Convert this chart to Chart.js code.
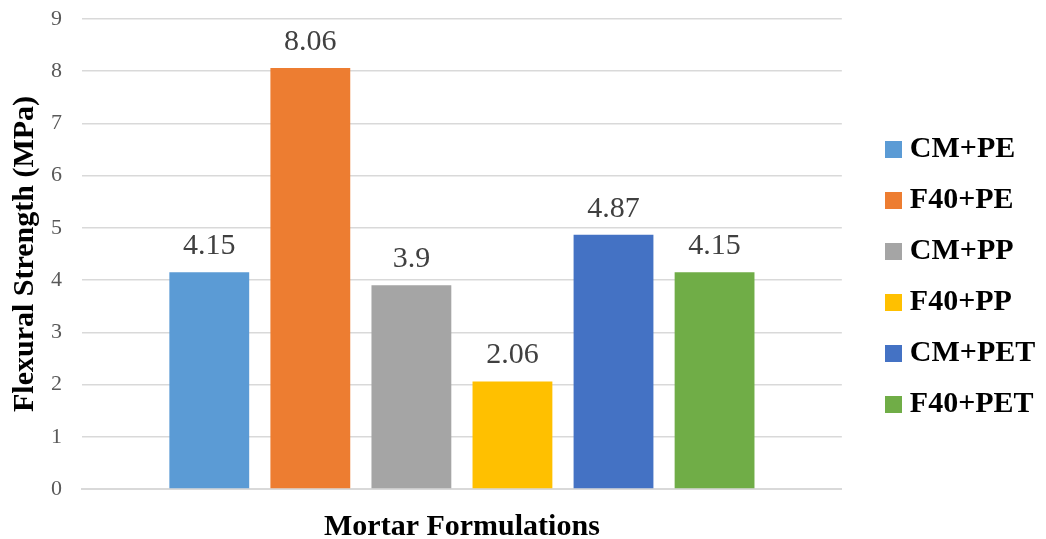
<!DOCTYPE html>
<html>
<head>
<meta charset="utf-8">
<script src="https://cdn.jsdelivr.net/npm/chart.js@4/dist/chart.umd.min.js"></script>
<style>
  html, body { margin: 0; padding: 0; background: #fff; }
  #wrap { width: 1046px; height: 539px; position: relative; }
</style>
</head>
<body>
<div id="wrap"><canvas id="strengthChart"></canvas></div>
<script>
const categories = [""];
const mixNames = ["CM+PE", "F40+PE", "CM+PP", "F40+PP", "CM+PET", "F40+PET"];
const strengthValues = [4.15, 8.06, 3.9, 2.06, 4.87, 4.15];
const barColors = ["#5B9BD5", "#ED7D31", "#A5A5A5", "#FFC000", "#4472C4", "#70AD47"];
const yTicks = [0, 1, 2, 3, 4, 5, 6, 7, 8, 9];

const serif = "'Liberation Serif', 'Times New Roman', serif";

// small square swatch used as the legend marker
function swatch(color) {
  const c = document.createElement("canvas");
  c.width = 17;
  c.height = 17;
  const g = c.getContext("2d");
  g.fillStyle = color;
  g.fillRect(0, 0, 17, 17);
  return c;
}

// prints each bar's value just above it
const valueLabels = {
  id: "valueLabels",
  afterDatasetsDraw(chart) {
    const ctx = chart.ctx;
    ctx.save();
    ctx.font = "30px " + serif;
    ctx.fillStyle = "#404040";
    ctx.textAlign = "center";
    ctx.textBaseline = "alphabetic";
    chart.data.datasets.forEach(function (ds, i) {
      const meta = chart.getDatasetMeta(i);
      meta.data.forEach(function (bar, j) {
        ctx.fillText(String(ds.data[j]), bar.x, bar.y - 18);
      });
    });
    ctx.restore();
  },
};

document.addEventListener("DOMContentLoaded", function () {
  const datasets = mixNames.map(function (name, i) {
    return {
      label: name,
      data: [strengthValues[i]],
      backgroundColor: barColors[i],
      pointStyle: swatch(barColors[i]),
      borderWidth: 0,
      categoryPercentage: 0.798,
      barPercentage: 0.79,
    };
  });

  new Chart(document.getElementById("strengthChart").getContext("2d"), {
    type: "bar",
    data: { labels: categories, datasets: datasets },
    options: {
      responsive: true,
      maintainAspectRatio: false,
      animation: false,
      layout: { padding: { top: 14, right: 1, left: 0, bottom: 0 } },
      plugins: {
        legend: {
          position: "right",
          labels: {
            usePointStyle: true,
            boxWidth: 3,
            boxHeight: 30,
            padding: 21,
            color: "#000",
            font: { family: serif, size: 30, weight: "bold" },
          },
        },
        tooltip: { enabled: false },
      },
      scales: {
        x: {
          grid: { display: false, drawTicks: false },
          border: { color: "#d9d9d9", width: 2 },
          ticks: { display: false },
          title: {
            display: true,
            text: "Mortar Formulations",
            color: "#000",
            font: { family: serif, size: 30, weight: "bold" },
            padding: { top: 20, bottom: -6 },
          },
        },
        y: {
          min: 0,
          max: 9,
          afterBuildTicks: function (axis) {
            axis.ticks = yTicks.map(function (v) { return { value: v }; });
          },
          afterFit: function (axis) {
            axis.width = 82;
            axis.paddingTop = 19;
            axis.paddingBottom = 0;
          },
          grid: { color: "#d9d9d9", lineWidth: 1.5, drawTicks: false },
          border: { display: false },
          ticks: {
            color: "#595959",
            padding: 20,
            font: { family: serif, size: 22 },
          },
          title: {
            display: true,
            text: "Flexural Strength (MPa)",
            color: "#000",
            font: { family: serif, size: 30, weight: "bold" },
            padding: { top: 7, bottom: 0 },
          },
        },
        // empty axis that keeps a gap between the plot and the legend
        gap: {
          type: "linear",
          position: "right",
          display: true,
          grid: { display: false, drawTicks: false },
          border: { display: false },
          ticks: { display: false },
          afterFit: function (axis) {
            axis.width = 29;
            axis.paddingTop = 0;
            axis.paddingBottom = 0;
          },
        },
      },
    },
    plugins: [valueLabels],
  });
});
</script>
</body>
</html>
